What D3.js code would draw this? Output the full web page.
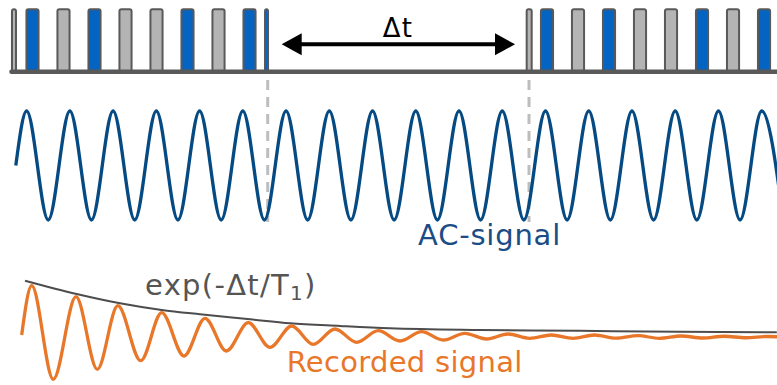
<!DOCTYPE html>
<html>
<head>
<meta charset="utf-8">
<script src="https://cdn.jsdelivr.net/npm/d3@7"></script>
<style>
  html, body { margin: 0; padding: 0; background: #ffffff; }
  svg { display: block; }
  text { font-family: "DejaVu Sans", Verdana, sans-serif; }
</style>
</head>
<body>
<svg id="chart" width="777" height="385"></svg>
<script>
// Time is measured in cycles of the AC drive signal.

// Pulse train: bar centre, bar width and state (on = blue, off = grey)
const pulseCenter = [-0.042, 0.386, 1.103, 1.820, 2.537, 3.254, 3.971, 4.688, 5.405, 5.798,
                     11.873, 12.285, 13.002, 13.719, 14.436, 15.153, 15.870, 16.587, 17.304];
const pulseWidth  = [0.093, 0.28, 0.28, 0.28, 0.28, 0.28, 0.28, 0.28, 0.28, 0.07,
                     0.116, 0.28, 0.28, 0.28, 0.28, 0.28, 0.28, 0.28, 0.28];
const pulseState  = ["off", "on", "off", "on", "off", "off", "on", "off", "on", "on",
                     "off", "on", "off", "on", "off", "off", "on", "off", "on"];
const pulseSpan   = [-0.135, 17.6];

// Gap between the two pulse trains
const gapEdges  = [5.826, 11.869];
const gapArrow  = [6.149, 11.545];

// AC signal: turning points (time, normalised amplitude)
const acTime  = [0, 0.25, 0.75, 1.25, 1.75, 2.25, 2.75, 3.25, 3.75, 4.25, 4.75, 5.25, 5.75,
                 6.25, 6.75, 7.25, 7.75, 8.25, 8.75, 9.25, 9.75, 10.25, 10.75, 11.25, 11.75,
                 12.25, 12.75, 13.25, 13.75, 14.25, 14.75, 15.25, 15.75, 16.25, 16.75, 17.25, 17.75];
const acValue = [0, 1, -1, 1, -1, 1, -1, 1, -1, 1, -1, 1, -1,
                 1, -1, 1, -1, 1, -1, 1, -1, 1, -1, 1, -1,
                 1, -1, 1, -1, 1, -1, 1, -1, 1, -1, 1, -1];

// Recorded signal: turning points (time, normalised amplitude)
const recTime  = [0.136, 0.368, 0.867, 1.392, 1.885, 2.36, 2.889, 3.374, 3.89, 4.376, 4.87,
                  5.377, 5.879, 6.381, 6.88, 7.382, 7.884, 8.383, 8.885, 9.385, 9.885,
                  10.385, 10.885, 11.385, 11.885, 12.385, 12.885, 13.385, 13.885, 14.385,
                  14.885, 15.385, 15.885, 16.385, 16.885, 17.385, 17.885];
const recValue = [0, 0.986, -0.886, 0.766, -0.686, 0.586, -0.514, 0.446, -0.42, 0.334, -0.32,
                  0.246, -0.246, 0.18, -0.186, 0.12, -0.146, 0.086, -0.12, 0.066, -0.1,
                  0.034, -0.08, 0.02, -0.066, 0.0, -0.066, 0.0, -0.062, -0.014,
                  -0.066, -0.02, -0.06, -0.025, -0.055, -0.03, -0.05];

// Decay envelope exp(-Δt/T1) sampled along the time axis
const envTime  = [0.213, 1.408, 2.41, 3.374, 4.26, 5.42, 6.34, 7.5, 8.65, 10.74, 13.05, 15.36, 17.6];
const envValue = [1.086, 0.82, 0.634, 0.5, 0.414, 0.314, 0.234, 0.18, 0.134, 0.1, 0.084, 0.064, 0.054];

// Labels
const labelDelta = "Δt";
const labelAC    = "AC-signal";
const labelRec   = "Recorded signal";

const svg = d3.select("#chart");

const x = d3.scaleLinear().domain([0, 18]).range([15.8, 15.8 + 18 * 43.24]);
const yPulse = d3.scaleLinear().domain([0, 1]).range([71.7, 9.3]);
const yAC  = d3.scaleLinear().domain([-1, 1]).range([220, 111]);
const yRec = d3.scaleLinear().domain([-1, 1]).range([385, 285]);

const colors = { on: "#0563c1", off: "#b4b4b4" };

// --- pulse trains ---
const pulses = pulseCenter.map((c, i) => ({ c, w: pulseWidth[i], s: pulseState[i] }));
svg.append("g").selectAll("rect")
  .data(pulses)
  .join("rect")
  .attr("x", d => x(d.c - d.w / 2))
  .attr("width", d => x(d.c + d.w / 2) - x(d.c - d.w / 2))
  .attr("y", yPulse(1))
  .attr("height", yPulse(0) - yPulse(1))
  .attr("rx", 2)
  .attr("fill", d => colors[d.s])
  .attr("stroke", "#595959")
  .attr("stroke-width", 2);

svg.append("line")
  .attr("x1", x(pulseSpan[0]) + 1.5).attr("x2", x(pulseSpan[1]))
  .attr("y1", yPulse(0)).attr("y2", yPulse(0))
  .attr("stroke", "#595959")
  .attr("stroke-width", 4.5)
  .attr("stroke-linecap", "round");

// --- dashed markers at the gap edges ---
svg.append("g").selectAll("line")
  .data(gapEdges)
  .join("line")
  .attr("x1", d => x(d)).attr("x2", d => x(d))
  .attr("y1", 80).attr("y2", 222)
  .attr("stroke", "#bdbdbd")
  .attr("stroke-width", 3)
  .attr("stroke-dasharray", "10 7");

// --- Δt double arrow ---
const ay = 44.3, headLen = 20, headHalf = 11;
const ax0 = x(gapArrow[0]), ax1 = x(gapArrow[1]);
svg.append("line")
  .attr("x1", ax0 + headLen - 2).attr("x2", ax1 - headLen + 2)
  .attr("y1", ay).attr("y2", ay)
  .attr("stroke", "#000").attr("stroke-width", 4);
svg.append("path")
  .attr("d", `M${ax0},${ay} L${ax0 + headLen},${ay - headHalf} L${ax0 + headLen},${ay + headHalf} Z`)
  .attr("fill", "#000");
svg.append("path")
  .attr("d", `M${ax1},${ay} L${ax1 - headLen},${ay - headHalf} L${ax1 - headLen},${ay + headHalf} Z`)
  .attr("fill", "#000");
svg.append("text")
  .attr("x", (ax0 + ax1) / 2 - 0.5).attr("y", 36.7)
  .attr("text-anchor", "middle")
  .attr("font-size", 26)
  .attr("letter-spacing", 1)
  .attr("fill", "#000")
  .text(labelDelta);

// --- AC signal ---
const acLine = d3.line()
  .x((d, i) => x(acTime[i]))
  .y(d => yAC(d))
  .curve(d3.curveMonotoneX);
svg.append("path")
  .attr("d", acLine(acValue))
  .attr("fill", "none")
  .attr("stroke", "#054a82")
  .attr("stroke-width", 3.3);

svg.append("text")
  .attr("x", 418).attr("y", 245)
  .attr("font-size", 29)
  .attr("letter-spacing", 0.8)
  .attr("fill", "#1a4d86")
  .text(labelAC);

// --- decay envelope ---
const envLine = d3.line()
  .x((d, i) => x(envTime[i]))
  .y(d => yRec(d))
  .curve(d3.curveMonotoneX);
svg.append("path")
  .attr("d", envLine(envValue))
  .attr("fill", "none")
  .attr("stroke", "#4d4d4d")
  .attr("stroke-width", 2);

// --- recorded signal ---
const recLine = d3.line()
  .x((d, i) => x(recTime[i]))
  .y(d => yRec(d))
  .curve(d3.curveMonotoneX);
svg.append("path")
  .attr("d", recLine(recValue))
  .attr("fill", "none")
  .attr("stroke", "#e8772a")
  .attr("stroke-width", 3.3);

// --- labels ---
const expLabel = svg.append("text")
  .attr("x", 145).attr("y", 295)
  .attr("font-size", 29)
  .attr("letter-spacing", 1.3)
  .attr("fill", "#555555");
expLabel.append("tspan").text("exp(-Δt/T");
expLabel.append("tspan").attr("font-size", 20).attr("dy", 5).text("1");
expLabel.append("tspan").attr("dy", -5).text(")");

svg.append("text")
  .attr("x", 286.7).attr("y", 371.7)
  .attr("font-size", 29)
  .attr("letter-spacing", 0.3)
  .attr("fill", "#e8772a")
  .text(labelRec);
</script>
</body>
</html>
